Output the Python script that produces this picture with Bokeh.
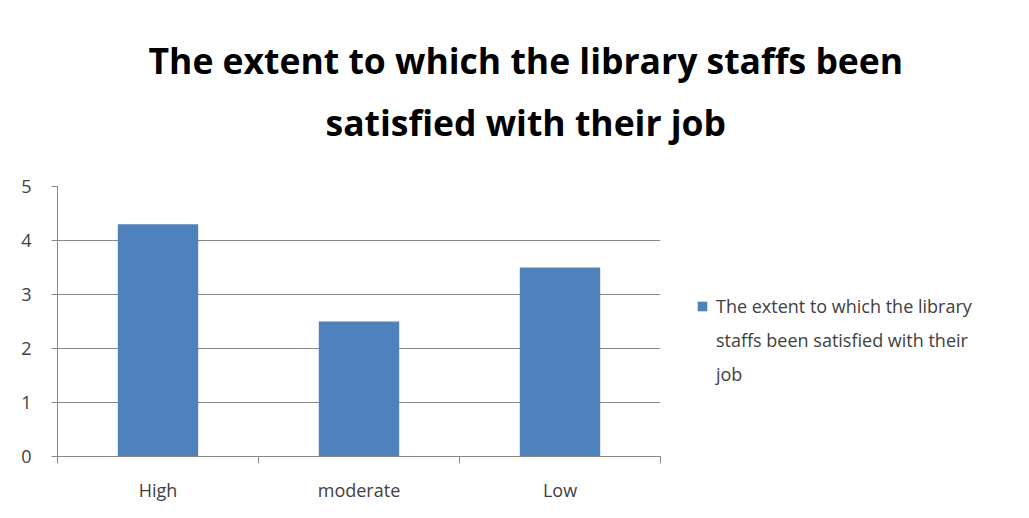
from bokeh.plotting import figure
from bokeh.models import (FixedTicker, Legend, LegendItem, Range1d, Title,
                          ColumnDataSource)
from bokeh.embed import file_html
from bokeh.resources import INLINE

categories = ["High", "moderate", "Low"]
values = [4.3, 2.5, 3.5]
legend_lines = ["The extent to which the library",
                "staffs been satisfied with their",
                "job"]
title_lines = ["The extent to which the library staffs been",
               "satisfied with their job"]
y_ticks = [0, 1, 2, 3, 4, 5]

FONT = "Open Sans"
TXT = "#404040"
BAR = "#4F81BD"
GRID = "#888888"

xpos = [i + 0.5 for i in range(len(categories))]
src = ColumnDataSource(dict(x=xpos, top=values, cat=categories))

p = figure(frame_width=603, frame_height=270, output_backend="svg",
           toolbar_location=None,
           x_range=Range1d(0, len(categories)), y_range=Range1d(0, 5),
           min_border_left=57, min_border_right=340, min_border_top=186,
           min_border_bottom=46)
p.outline_line_color = None
p.background_fill_color = "white"
p.border_fill_color = "white"

r = p.vbar(x="x", top="top", width=0.4, source=src, fill_color=BAR,
           line_color=None)
# transparent twin, used only to give the wrapped legend lines no swatch
r_blank = p.vbar(x="x", top="top", width=0.4, source=src, fill_alpha=0,
                 line_alpha=0)

# axes
p.yaxis.ticker = FixedTicker(ticks=y_ticks)
p.yaxis.axis_line_color = GRID
p.yaxis.major_tick_line_color = GRID
p.yaxis.major_tick_out = 6
p.yaxis.major_tick_in = 0
p.yaxis.minor_tick_line_color = None
p.yaxis.major_label_text_font = FONT
p.yaxis.major_label_text_font_size = "18px"
p.yaxis.major_label_text_color = TXT
p.yaxis.major_label_standoff = 20

p.xaxis.ticker = FixedTicker(ticks=xpos, minor_ticks=list(range(len(categories) + 1)))
p.xaxis.major_label_overrides = {x: c for x, c in zip(xpos, categories)}
p.xaxis.axis_line_color = GRID
p.xaxis.major_tick_line_color = None
p.xaxis.minor_tick_line_color = GRID
p.xaxis.minor_tick_out = 7
p.xaxis.minor_tick_in = 0
p.xaxis.major_label_text_font = FONT
p.xaxis.major_label_text_font_size = "18px"
p.xaxis.major_label_text_color = TXT
p.xaxis.major_label_standoff = 14

p.xgrid.grid_line_color = None
p.ygrid.ticker = FixedTicker(ticks=y_ticks)
p.ygrid.grid_line_color = GRID
p.ygrid.grid_line_width = 1

# title: two lines; later-added is placed farther from the plot
offsets = [91, 268]
standoffs = [-58, 82]
for t, off, so in reversed(list(zip(title_lines, offsets, standoffs))):
    p.add_layout(Title(text=t, text_font=FONT, text_font_style="bold",
                       text_font_size="35.5px", align="left", offset=off,
                       text_color="black", standoff=so), "above")

items = [LegendItem(label=legend_lines[0], renderers=[r])] + \
        [LegendItem(label=l, renderers=[r_blank]) for l in legend_lines[1:]]
legend = Legend(items=items, location=(36, 70), border_line_color=None,
                background_fill_alpha=0, label_text_font=FONT,
                label_text_font_size="18px", label_text_color=TXT,
                label_height=20, spacing=10, glyph_width=12, glyph_height=12,
                label_standoff=8)
p.add_layout(legend, "right")

open("out.html", "w").write(file_html(p, INLINE))
